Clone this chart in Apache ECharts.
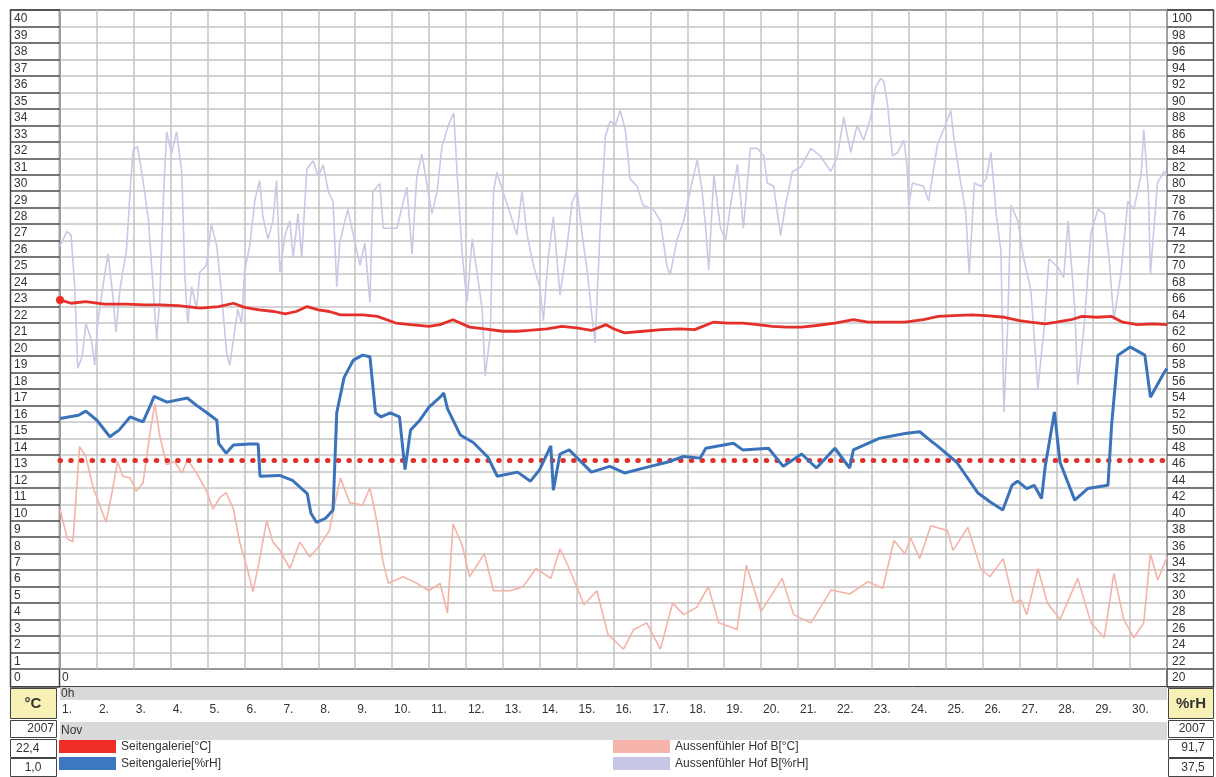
<!DOCTYPE html>
<html><head><meta charset="utf-8">
<script src="https://cdn.jsdelivr.net/npm/echarts@6/dist/echarts.min.js"></script>
<style>html,body{margin:0;padding:0;background:#fff}#c{width:1216px;height:777px}</style>
</head><body><div id="c"></div><script>
// x = days since 1 Nov 2007 0h
var dayLabels = ['1.','2.','3.','4.','5.','6.','7.','8.','9.','10.','11.','12.','13.','14.','15.','16.','17.','18.','19.','20.','21.','22.','23.','24.','25.','26.','27.','28.','29.','30.'];
var seriesNames = ['Seitengalerie[°C]','Seitengalerie[%rH]','Aussenfühler Hof B[°C]','Aussenfühler Hof B[%rH]'];
var infoLeft = ['2007','22,4','1,0'];
var infoRight = ['2007','91,7','37,5'];
var limitRH = 45.4;

var galerieTemp = [[0,22.4],[0.3,22.2],[0.7,22.3],[1.2,22.15],[1.8,22.15],[2.3,22.1],[2.7,22.1],[3.2,22.05],[3.8,21.9],[4.3,22.0],[4.7,22.2],[5.0,21.95],[5.4,21.8],[5.8,21.7],[6.1,21.55],[6.4,21.7],[6.7,22.0],[7.0,21.8],[7.3,21.7],[7.6,21.5],[8.2,21.5],[8.6,21.4],[9.1,21.0],[9.5,20.9],[10.0,20.8],[10.3,20.9],[10.65,21.2],[11.1,20.75],[11.5,20.65],[12.0,20.5],[12.4,20.5],[12.7,20.55],[13.2,20.65],[13.6,20.8],[14.0,20.7],[14.4,20.55],[14.8,20.9],[15.0,20.65],[15.3,20.4],[15.8,20.5],[16.3,20.6],[16.8,20.65],[17.2,20.6],[17.7,21.05],[18.1,21.0],[18.5,21.0],[18.9,20.9],[19.3,20.8],[19.7,20.75],[20.1,20.75],[20.5,20.85],[21.0,21.0],[21.5,21.2],[21.9,21.05],[22.4,21.05],[22.9,21.05],[23.4,21.2],[23.8,21.4],[24.2,21.45],[24.7,21.5],[25.1,21.45],[25.6,21.35],[26.0,21.15],[26.3,21.05],[26.7,20.95],[27.0,21.05],[27.4,21.2],[27.7,21.4],[28.1,21.35],[28.5,21.4],[28.8,21.05],[29.2,20.9],[29.6,20.95],[30.0,20.9]];

var galerieRH = [[0,50.4],[0.5,50.8],[0.7,51.3],[1.0,50.2],[1.35,48.2],[1.6,49.0],[1.9,50.6],[2.25,50.0],[2.45,52.0],[2.55,53.1],[2.9,52.4],[3.45,52.9],[3.7,52.0],[3.98,51.1],[4.25,50.2],[4.3,47.4],[4.5,46.2],[4.7,47.2],[5.15,47.3],[5.37,47.3],[5.42,43.4],[5.95,43.5],[6.3,42.9],[6.7,41.3],[6.8,38.9],[6.95,37.8],[7.2,38.3],[7.4,39.3],[7.5,51.1],[7.7,55.4],[7.95,57.5],[8.2,58.1],[8.4,57.9],[8.55,51.1],[8.7,50.6],[8.95,51.1],[9.2,50.6],[9.35,44.2],[9.5,49.0],[9.75,50.2],[10.0,51.8],[10.3,53.0],[10.4,53.5],[10.5,51.6],[10.85,48.4],[11.2,47.5],[11.6,45.7],[11.85,43.4],[12.4,43.9],[12.75,42.8],[13.0,44.2],[13.3,47.1],[13.37,41.7],[13.55,46.1],[13.8,46.6],[14.4,43.9],[14.9,44.6],[15.3,43.8],[16.0,44.6],[16.45,45.1],[16.9,45.8],[17.35,45.6],[17.5,46.8],[18.25,47.4],[18.5,46.6],[19.2,46.8],[19.6,44.6],[20.1,46.1],[20.5,44.4],[21.0,46.8],[21.4,44.4],[21.5,46.6],[22.2,48.0],[22.9,48.6],[23.3,48.8],[23.6,47.7],[23.8,47.0],[24.3,45.1],[24.87,41.4],[25.2,40.3],[25.55,39.3],[25.8,42.3],[25.95,42.8],[26.2,41.9],[26.4,42.3],[26.6,40.7],[26.7,44.6],[26.95,51.2],[27.1,45.1],[27.5,40.5],[27.85,41.9],[28.4,42.3],[28.5,49.7],[28.67,58.1],[29.0,59.1],[29.4,58.1],[29.55,53.0],[29.9,55.8],[30.0,56.5]];

var hofTemp = [[0,9.7],[0.2,7.9],[0.35,7.7],[0.53,13.5],[0.7,12.9],[0.9,11.0],[1.25,8.9],[1.4,10.6],[1.56,12.6],[1.7,11.7],[1.9,11.6],[2.07,10.8],[2.25,11.3],[2.43,14.2],[2.57,16.1],[2.7,14.2],[2.89,12.4],[3.1,12.6],[3.3,11.9],[3.46,12.7],[3.7,11.9],[3.97,10.8],[4.15,9.7],[4.33,10.4],[4.5,10.7],[4.7,9.7],[4.87,7.7],[5.05,6.3],[5.23,4.7],[5.4,6.55],[5.6,9.0],[5.77,7.7],[5.96,7.2],[6.23,6.1],[6.5,7.7],[6.77,6.8],[7.04,7.5],[7.3,8.4],[7.5,10.6],[7.6,11.6],[7.85,10.1],[8.2,9.95],[8.4,11.0],[8.6,8.8],[8.75,6.55],[8.9,5.2],[9.3,5.6],[9.67,5.2],[10.0,4.75],[10.3,5.2],[10.5,3.4],[10.65,8.8],[10.9,7.5],[11.1,5.6],[11.5,7.0],[11.75,4.75],[12.2,4.75],[12.55,5.0],[12.9,6.1],[13.3,5.5],[13.55,7.3],[13.8,6.1],[14.2,3.9],[14.55,4.75],[14.85,2.1],[15.27,1.2],[15.55,2.4],[15.9,2.8],[16.27,1.2],[16.6,4.0],[16.9,3.3],[17.26,3.75],[17.57,5.0],[17.85,2.8],[18.35,2.4],[18.6,6.3],[19.0,3.5],[19.57,5.5],[19.88,3.3],[20.35,2.8],[20.9,4.8],[21.4,4.55],[21.9,5.3],[22.3,4.9],[22.6,7.8],[22.9,7.0],[23.05,7.95],[23.3,6.7],[23.6,8.7],[24.05,8.4],[24.2,7.2],[24.6,8.6],[24.95,6.1],[25.2,5.6],[25.56,6.7],[25.85,4.0],[26.04,4.2],[26.2,3.3],[26.5,6.1],[26.76,4.0],[27.1,3.0],[27.58,5.5],[27.94,2.8],[28.3,1.9],[28.56,5.8],[28.83,3.0],[29.1,1.9],[29.37,2.8],[29.55,7.0],[29.75,5.4],[30.0,6.8]];

var hofRH = [[0,71.3],[0.18,73.1],[0.3,72.7],[0.4,66.4],[0.48,56.5],[0.6,57.9],[0.7,61.9],[0.85,60.0],[0.94,56.9],[1.02,61.9],[1.16,66.4],[1.3,70.4],[1.43,65.4],[1.52,60.9],[1.62,65.9],[1.7,68.2],[1.8,70.8],[1.9,78.0],[1.98,83.0],[2.1,83.4],[2.25,79.3],[2.4,74.4],[2.52,66.4],[2.62,60.0],[2.7,64.5],[2.8,76.9],[2.89,85.2],[3.02,82.5],[3.16,85.2],[3.3,80.3],[3.38,68.2],[3.46,61.9],[3.57,66.4],[3.7,63.7],[3.79,68.2],[3.97,69.0],[4.1,74.0],[4.25,71.3],[4.38,65.4],[4.52,58.2],[4.6,56.9],[4.7,60.0],[4.82,63.7],[4.92,61.9],[5.0,68.2],[5.14,71.3],[5.28,76.9],[5.41,79.3],[5.5,74.9],[5.64,72.2],[5.77,74.4],[5.87,79.3],[5.96,68.2],[6.1,72.7],[6.23,74.4],[6.32,69.9],[6.45,75.3],[6.55,69.9],[6.69,80.7],[6.86,81.7],[7.0,79.8],[7.13,81.2],[7.27,78.0],[7.4,76.7],[7.5,66.4],[7.58,71.7],[7.72,74.4],[7.8,75.8],[7.95,72.7],[8.13,69.0],[8.26,71.7],[8.4,64.5],[8.48,78.0],[8.67,78.9],[8.76,73.5],[9.13,73.5],[9.4,78.5],[9.54,70.4],[9.67,79.8],[9.81,82.5],[9.94,78.9],[10.08,75.3],[10.22,78.0],[10.35,83.4],[10.53,86.1],[10.67,87.5],[10.76,80.3],[10.9,70.4],[11.03,64.5],[11.17,72.2],[11.3,68.2],[11.44,63.7],[11.52,55.6],[11.66,60.5],[11.75,78.0],[11.84,80.3],[12.0,78.0],[12.2,75.3],[12.38,72.7],[12.52,78.0],[12.66,72.7],[12.83,69.0],[13.0,66.4],[13.1,62.3],[13.23,69.9],[13.37,74.9],[13.55,65.4],[13.74,71.3],[13.88,76.7],[14.02,78.0],[14.15,72.7],[14.29,68.2],[14.42,62.7],[14.5,59.6],[14.64,73.5],[14.78,84.7],[14.91,86.5],[15.05,86.0],[15.18,87.8],[15.32,85.5],[15.45,79.5],[15.64,78.6],[15.8,76.3],[16.08,75.8],[16.27,74.4],[16.45,68.8],[16.54,67.9],[16.72,72.1],[16.9,74.4],[17.08,78.1],[17.27,81.8],[17.4,78.1],[17.5,73.5],[17.58,68.4],[17.72,80.0],[17.9,73.5],[18.04,72.1],[18.17,76.3],[18.36,81.3],[18.52,73.5],[18.71,83.2],[18.9,83.2],[19.07,82.3],[19.17,79.0],[19.34,78.6],[19.53,72.6],[19.66,76.3],[19.85,80.4],[20.07,80.9],[20.35,83.2],[20.6,82.3],[20.89,80.4],[21.07,82.3],[21.24,87.0],[21.43,82.7],[21.6,86.0],[21.78,84.2],[21.97,87.0],[22.1,90.6],[22.24,91.7],[22.32,91.4],[22.42,88.8],[22.56,82.3],[22.7,82.7],[22.87,84.2],[22.96,80.9],[23.0,76.3],[23.1,79.0],[23.4,78.6],[23.54,76.8],[23.78,83.7],[23.95,85.5],[24.14,87.8],[24.22,84.6],[24.41,79.0],[24.55,75.3],[24.64,67.9],[24.78,79.0],[24.96,78.6],[25.1,79.5],[25.23,82.7],[25.37,75.3],[25.5,70.7],[25.58,51.2],[25.68,61.4],[25.77,76.3],[25.96,74.4],[26.12,69.8],[26.31,66.0],[26.5,54.0],[26.67,61.4],[26.8,69.8],[27.04,68.8],[27.2,67.5],[27.32,74.4],[27.5,63.7],[27.58,54.5],[27.75,61.4],[27.94,73.0],[28.13,75.8],[28.3,75.3],[28.43,69.8],[28.56,62.4],[28.75,67.9],[28.94,76.8],[29.1,75.8],[29.3,80.0],[29.37,85.5],[29.5,77.6],[29.55,67.9],[29.74,79.0],[29.92,80.4],[30.0,80.0]];

var FONT = "'Liberation Sans', Arial, sans-serif";
var chart = echarts.init(document.getElementById('c'), null, {renderer: 'canvas'});

var cellLabel = {
  fontSize: 12, color: '#333', fontFamily: FONT,
  align: 'left', verticalAlign: 'top', padding: [3, 0, 0, 0],
  showMinLabel: true, showMaxLabel: true
};
var cellTick = {show: true, inside: false, lineStyle: {color: '#4a4a4a', width: 1.5}};

function box(x, y, w, h, fill) {
  return {type: 'rect', shape: {x: x, y: y, width: w, height: h}, style: {fill: fill || '#fff', stroke: '#444', lineWidth: 1}, silent: true};
}
function txt(x, y, s, opt) {
  opt = opt || {};
  return {type: 'text', x: x, y: y, silent: true, z: 10, style: {text: s, fill: '#333', font: (opt.bold ? 'bold ' : '') + (opt.size || 12) + 'px ' + FONT, align: opt.align || 'left', verticalAlign: 'middle'}};
}

var gfx = [
  // outer frames of the label columns
  {type: 'rect', shape: {x: 10.5, y: 10, width: 49, height: 677}, style: {fill: 'none', stroke: '#444', lineWidth: 1.5}, silent: true},
  {type: 'rect', shape: {x: 1167, y: 10, width: 46.5, height: 677}, style: {fill: 'none', stroke: '#444', lineWidth: 1.5}, silent: true},
  {type: 'line', shape: {x1: 10, y1: 686.5, x2: 1213, y2: 686.5}, style: {stroke: '#444', lineWidth: 1}, silent: true},
  {type: 'rect', shape: {x: 60, y: 687, width: 1107, height: 13}, style: {fill: '#d9d9d9'}, silent: true},
  {type: 'rect', shape: {x: 60, y: 722, width: 1107, height: 18}, style: {fill: '#d9d9d9'}, silent: true},
  txt(62, 678, '0'), txt(61, 694, '0h'), txt(61, 731, 'Nov'),
  box(10.5, 688.5, 46, 30, '#f7f1b5'), txt(33, 704, '°C', {bold: true, size: 15, align: 'center'}),
  box(10.5, 720.5, 46, 17), txt(54, 729, infoLeft[0], {align: 'right'}),
  box(10.5, 739.5, 46, 18), txt(16, 749, infoLeft[1]),
  box(10.5, 758.5, 46, 18), txt(33, 768, infoLeft[2], {align: 'center'}),
  box(1168.5, 688.5, 45, 30, '#f7f1b5'), txt(1191, 704, '%rH', {bold: true, size: 15, align: 'center'}),
  box(1168.5, 720.5, 45, 17), txt(1192, 729, infoRight[0], {align: 'center'}),
  box(1168.5, 739.5, 45, 18), txt(1193, 748, infoRight[1], {align: 'center'}),
  box(1168.5, 758.5, 45, 18), txt(1193, 768, infoRight[2], {align: 'center'})
];

var legendBase = {orient: 'vertical', top: 740, padding: 0, itemWidth: 57, itemHeight: 13, itemGap: 4, icon: 'rect', selectedMode: false,
  textStyle: {fontSize: 12, color: '#333', fontFamily: FONT}};

var option = {
  animation: false,
  backgroundColor: '#fff',
  textStyle: {fontFamily: FONT},
  grid: {left: 60, right: 49, top: 10, bottom: 108, show: true, borderColor: '#111', borderWidth: 2, backgroundColor: 'transparent'},
  legend: [
    Object.assign({data: [seriesNames[0], seriesNames[1]], left: 59}, legendBase),
    Object.assign({data: [seriesNames[2], seriesNames[3]], left: 613}, legendBase)
  ],
  xAxis: {
    type: 'value', min: 0, max: 30, interval: 1,
    axisLine: {show: false}, axisTick: {show: false},
    splitLine: {show: true, lineStyle: {color: '#c4c4c4', width: 1.5}},
    axisLabel: {margin: 35, align: 'left', padding: [0, 0, 0, 2], fontSize: 12, color: '#333', fontFamily: FONT,
      showMinLabel: true, showMaxLabel: true,
      formatter: function (v) { return v < dayLabels.length ? dayLabels[v] : ''; }}
  },
  yAxis: [
    {type: 'value', min: 0, max: 40, interval: 1, position: 'left',
     axisLine: {show: false},
     axisTick: Object.assign({length: 50}, cellTick),
     splitLine: {show: true, lineStyle: {color: '#c4c4c4', width: 1.5}},
     axisLabel: Object.assign({margin: 46}, cellLabel)},
    {type: 'value', min: 20, max: 100, interval: 2, position: 'right',
     axisLine: {show: false},
     axisTick: Object.assign({length: 46}, cellTick),
     splitLine: {show: false},
     axisLabel: Object.assign({margin: 5}, cellLabel)}
  ],
  graphic: gfx,
  series: [
    {name: seriesNames[3], type: 'line', yAxisIndex: 1, data: hofRH, showSymbol: false, symbol: 'none',
     lineStyle: {color: '#c9c8e6', width: 1.6}, itemStyle: {color: '#c8c6e6'}, z: 2},
    {name: seriesNames[2], type: 'line', yAxisIndex: 0, data: hofTemp, showSymbol: false, symbol: 'none',
     lineStyle: {color: '#f4b3a8', width: 1.6}, itemStyle: {color: '#f7b4ab'}, z: 3},
    {name: seriesNames[0], type: 'line', yAxisIndex: 0, symbol: 'none', showSymbol: true,
     data: galerieTemp.map(function (p, i) { return i === 0 ? {value: p, symbol: 'circle', symbolSize: 8} : p; }),
     lineStyle: {color: '#e5302a', width: 2.8}, itemStyle: {color: '#ee2e24'}, z: 4},
    {name: seriesNames[1], type: 'line', yAxisIndex: 1, data: galerieRH, showSymbol: false, symbol: 'none',
     lineStyle: {color: '#3a73ba', width: 3}, itemStyle: {color: '#3d77c2'}, z: 5,
     markLine: {silent: true, symbol: ['none', 'none'], label: {show: false},
       lineStyle: {color: '#e0302a', type: [0.5, 10.2], width: 5, cap: 'round'},
       emphasis: {disabled: true},
       data: [{yAxis: limitRH}]}}
  ]
};
chart.setOption(option);
</script></body></html>
